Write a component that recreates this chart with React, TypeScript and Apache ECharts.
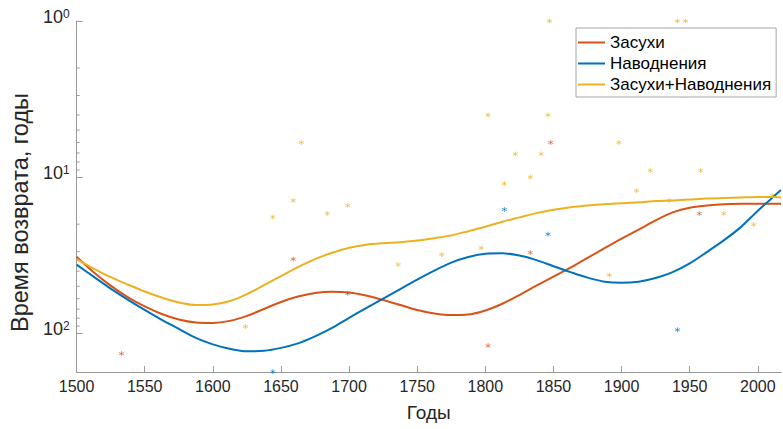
import React, { useEffect, useRef } from "react";
import * as echarts from "echarts";

const years = [
  1500, 1512.5, 1525, 1537.5, 1550, 1562.5, 1575, 1587.5, 1600, 1612.5, 1625, 1637.5, 1650, 1662.5,
  1675, 1687.5, 1700, 1712.5, 1725, 1737.5, 1750, 1762.5, 1775, 1787.5, 1800, 1812.5, 1825, 1837.5,
  1850, 1862.5, 1875, 1887.5, 1900, 1912.5, 1925, 1937.5, 1950, 1962.5, 1975, 1987.5, 2000, 2012.5, 2017,
];
const droughtCurve = [
  32.3, 40.6, 49.5, 58.6, 67.3, 75.2, 81.5, 85.2, 85.8, 83.3, 77.4, 69.9, 63.0, 58.2,
  55.2, 54.2, 54.8, 57.3, 61.2, 65.9, 70.9, 74.6, 76.5, 75.8, 71.4, 64.7, 56.9, 49.6,
  43.4, 38.0, 32.9, 28.5, 24.8, 21.7, 18.9, 16.8, 15.7, 15.2, 14.9, 14.8, 14.8, 14.8, 14.8,
];
const floodCurve = [
  36.3, 43.4, 51.7, 60.8, 70.9, 82.1, 93.7, 107.0, 117.7, 125.8, 130.5, 129.5, 124.0, 116.0,
  104.7, 92.4, 79.7, 68.9, 59.9, 52.1, 45.3, 39.7, 35.3, 32.5, 30.9, 30.7, 31.8, 34.0,
  37.2, 40.6, 44.0, 46.7, 47.5, 46.7, 44.3, 40.6, 35.7, 30.2, 25.4, 20.9, 16.4, 13.1, 12.1,
];
const combinedCurve = [
  33.5, 38.5, 43.7, 48.7, 54.0, 59.0, 63.5, 65.9, 65.4, 62.1, 56.1, 49.1, 43.0, 37.7,
  33.5, 30.5, 28.3, 27.1, 26.5, 26.1, 25.5, 24.6, 23.6, 22.2, 20.8, 19.3, 18.1, 17.0,
  16.2, 15.6, 15.2, 14.9, 14.7, 14.5, 14.2, 14.1, 13.9, 13.7, 13.6, 13.5, 13.4, 13.4, 13.5,
];

const droughtPoints = [[1533, 135], [1659, 33.5], [1802, 120], [1833, 30.4], [1848, 6.0], [1957, 17.1]];
const floodPoints = [[1644, 176], [1699, 55.5], [1814, 16.1], [1846, 23.2], [1941, 95]];
const combinedPoints = [
  [1624, 90.6], [1644, 18], [1659, 14.1], [1665, 6.0], [1684, 17.1], [1699, 15.2], [1736, 36.3],
  [1768, 31.3], [1797, 28.4], [1802, 4.0], [1814, 11], [1822, 7.1], [1833, 10], [1841, 7.1],
  [1846, 4.0], [1847, 1.0], [1891, 42.4], [1898, 6.0], [1911, 12.2], [1921, 9.06], [1935, 14.1],
  [1941, 1.0], [1945, 3.0], [1947, 1.0], [1958, 9.06], [1975, 17.1], [1997, 20.1], [2011, 13.1],
];

const xTicks = [1500, 1550, 1600, 1650, 1700, 1750, 1800, 1850, 1900, 1950, 2000];
const yMinorTicks = [2, 3, 4, 5, 6, 7, 8, 9, 20, 30, 40, 50, 60, 70, 80, 90];

const seriesNames = ["Засухи", "Наводнения", "Засухи+Наводнения"];
const colors = ["#D95319", "#0072BD", "#EDB120"];

const X_MIN = 1500;
const X_MAX = 2017;
const Y_MIN = 1;
const Y_MAX = 177;

const FONT = "'Liberation Sans', Arial, sans-serif";
const AXIS_COLOR = "#9a9a9a";
const TEXT_COLOR = "#262626";
const ASTERISK = "path://M5,0L5,10M0.67,2.5L9.33,7.5M0.67,7.5L9.33,2.5";

export default function App() {
  const ref = useRef<HTMLDivElement>(null);

  useEffect(() => {
    if (!ref.current) return;
    const chart = echarts.init(ref.current, null, { renderer: "svg" });

    const curves = [droughtCurve, floodCurve, combinedCurve];
    const points = [droughtPoints, floodPoints, combinedPoints];

    const scatterSeries = points.map((pts, i) => ({
      type: "scatter",
      name: seriesNames[i] + " (точки)",
      data: pts,
      symbol: ASTERISK,
      symbolSize: 5,
      clip: false,
      silent: true,
      itemStyle: { color: "transparent", borderColor: colors[i], borderWidth: 1, opacity: 0.6 },
      z: 2,
    }));

    const lineSeries = curves.map((c, i) => ({
      type: "line",
      name: seriesNames[i],
      data: years.map((y, k) => [y, c[k]]),
      smooth: 0.3,
      showSymbol: false,
      symbol: "none",
      silent: true,
      lineStyle: { color: colors[i], width: 2 },
      itemStyle: { color: colors[i] },
      z: 3,
    }));

    const minorTickSeries = {
      type: "custom",
      name: "minor",
      silent: true,
      clip: false,
      data: yMinorTicks.map((v) => [X_MIN, v]),
      renderItem: (params: any, api: any) => {
        const p = api.coord([api.value(0), api.value(1)]);
        return {
          type: "line",
          shape: { x1: p[0], y1: p[1], x2: p[0] + 3, y2: p[1] },
          style: { stroke: AXIS_COLOR, lineWidth: 1 },
        };
      },
      z: 1,
    };

    chart.setOption({
      animation: false,
      backgroundColor: "#ffffff",
      textStyle: { fontFamily: FONT },
      grid: { left: 69, right: 2, top: 20, bottom: 57 },
      legend: {
        data: seriesNames.map((n) => ({ name: n, icon: "rect" })),
        orient: "vertical",
        left: 576,
        top: 28,
        itemWidth: 27,
        itemHeight: 2,
        itemGap: 2,
        padding: [5, 5, 3, 2],
        borderColor: "#a6a6a6",
        borderWidth: 1,
        backgroundColor: "#ffffff",
        selectedMode: false,
        textStyle: { fontSize: 17, color: "#000000", fontFamily: FONT, lineHeight: 19 },
      },
      xAxis: {
        type: "value",
        min: X_MIN,
        max: X_MAX,
        interval: 50,
        name: "Годы",
        nameLocation: "middle",
        nameGap: 31,
        nameTextStyle: { fontSize: 19, color: TEXT_COLOR, fontFamily: FONT },
        axisLine: { show: true, lineStyle: { color: AXIS_COLOR, width: 1 } },
        axisTick: { show: true, inside: true, length: 6, lineStyle: { color: AXIS_COLOR }, customValues: xTicks },
        axisLabel: {
          customValues: xTicks,
          fontSize: 16,
          color: TEXT_COLOR,
          margin: 6,
          fontFamily: FONT,
          formatter: (v: number) => String(v),
        },
        splitLine: { show: false },
      },
      yAxis: {
        type: "log",
        logBase: 10,
        min: Y_MIN,
        max: Y_MAX,
        inverse: true,
        name: "Время возврата, годы",
        nameLocation: "middle",
        nameGap: 36,
        nameRotate: 90,
        nameTextStyle: { fontSize: 23.5, color: TEXT_COLOR, fontFamily: FONT, padding: [0, 32, 0, 0] },
        axisLine: { show: true, lineStyle: { color: AXIS_COLOR, width: 1 } },
        axisTick: { show: true, inside: true, length: 6, lineStyle: { color: AXIS_COLOR } },
        axisLabel: {
          margin: 7,
          color: TEXT_COLOR,
          fontFamily: FONT,
          padding: [0, 0, 8, 0],
          formatter: (v: number) => {
            const e = Math.log10(v);
            if (Math.abs(e - Math.round(e)) > 1e-6) return "";
            return `{b|10}{s|${Math.round(e)}}`;
          },
          rich: {
            b: { fontSize: 18, lineHeight: 18, verticalAlign: "bottom", padding: [8, 0, 0, 0], color: TEXT_COLOR, fontFamily: FONT },
            s: { fontSize: 12, lineHeight: 12, verticalAlign: "top", color: TEXT_COLOR, fontFamily: FONT },
          },
        },
        splitLine: { show: false },
      },
      series: [minorTickSeries, ...scatterSeries, ...lineSeries],
    });

    return () => chart.dispose();
  }, []);

  return <div ref={ref} style={{ position: "absolute", left: 0, top: 0, width: 783, height: 429 }} />;
}
